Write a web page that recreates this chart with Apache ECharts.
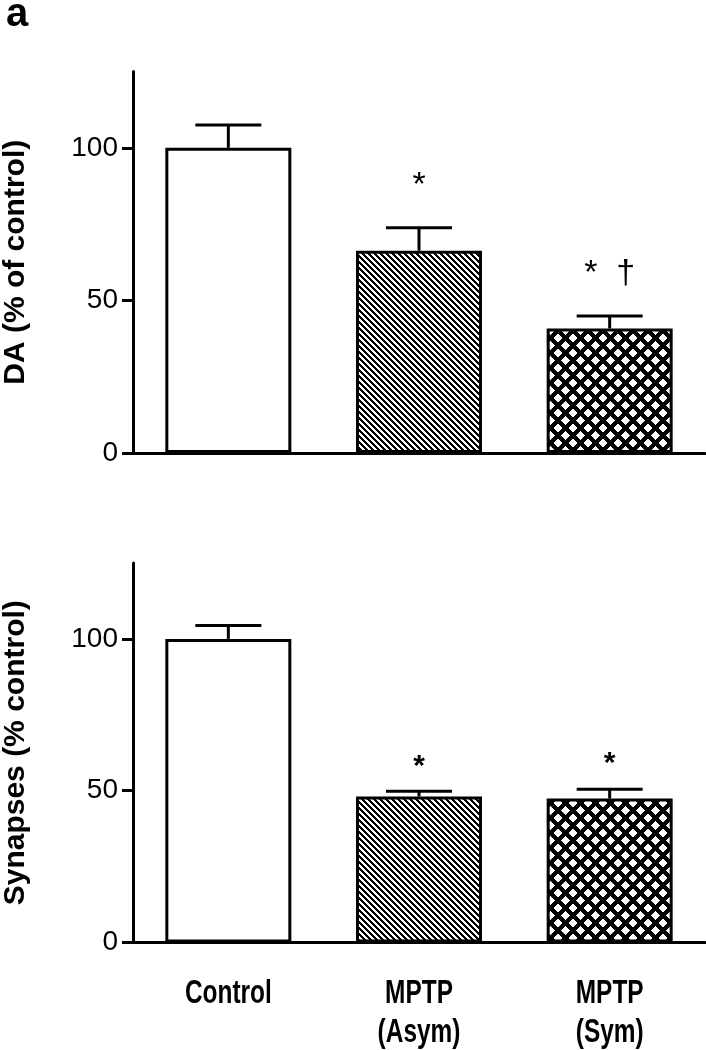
<!DOCTYPE html>
<html>
<head>
<meta charset="utf-8">
<script src="https://cdn.jsdelivr.net/npm/echarts@6/dist/echarts.min.js"></script>
<style>
  html, body { margin: 0; padding: 0; background: #fff; }
  #chart { width: 706px; height: 1050px; }
</style>
</head>
<body>
<div id="chart"></div>
<script>
  // values
  const groups = ['Control', 'MPTP\n(Asym)', 'MPTP\n(Sym)'];
  const daMean = [100, 66.3, 40.8];
  const daErr = [7.5, 7.5, 4.1];
  const daMarks = ['', '*', '*  †'];
  const synMean = [100, 48.1, 47.4];
  const synErr = [4.4, 1.7, 3.1];
  const synMarks = ['', '*', '*'];
  const yTicks = [0, 50, 100];

  const sans = '"Liberation Sans", Arial, sans-serif';

  // little canvas tiles for the hatched bars
  function tile(size, isInk) {
    let c = document.createElement('canvas');
    c.width = size;
    c.height = size;
    let ctx = c.getContext('2d');
    ctx.fillStyle = '#fff';
    ctx.fillRect(0, 0, size, size);
    ctx.fillStyle = '#000';
    for (let y = 0; y < size; y++) {
      for (let x = 0; x < size; x++) {
        if (isInk(x, y)) ctx.fillRect(x, y, 1, 1);
      }
    }
    return c;
  }
  const stripes = tile(6, (x, y) => ((x - y) % 6 + 6) % 6 < 3);
  const crossed = tile(15, (x, y) => (x + y) % 15 < 6 || ((x - y) % 15 + 15) % 15 < 6);
  const fills = ['#fff', {image: stripes, repeat: 'repeat'}, {image: crossed, repeat: 'repeat'}];

  function barSeries(idx, means) {
    return {
      type: 'bar',
      xAxisIndex: idx,
      yAxisIndex: idx,
      barWidth: 126,
      data: means.map((v, i) => ({value: v, itemStyle: {color: fills[i]}})),
      itemStyle: {borderColor: '#000', borderWidth: 3},
      emphasis: {disabled: true}
    };
  }

  function errSeries(idx, means, errs, marks, markFont, lift) {
    return {
      type: 'custom',
      xAxisIndex: idx,
      yAxisIndex: idx,
      z: 5,
      clip: false,
      data: means.map((m, i) => [i, m, m + errs[i]]),
      renderItem: (params, api) => {
        let base = api.coord([api.value(0), api.value(1)]);
        let top = api.coord([api.value(0), api.value(2)]);
        let kids = [
          {type: 'line', shape: {x1: top[0], y1: base[1], x2: top[0], y2: top[1]}, style: {stroke: '#000', lineWidth: 3}},
          {type: 'line', shape: {x1: top[0] - 33, y1: top[1], x2: top[0] + 33, y2: top[1]}, style: {stroke: '#000', lineWidth: 3}}
        ];
        let mark = marks[params.dataIndex];
        if (mark) {
          kids.push({
            type: 'text', x: top[0], y: top[1] - lift,
            style: {text: mark, fill: '#000', font: markFont, align: 'center', verticalAlign: 'middle'}
          });
        }
        return {type: 'group', children: kids};
      }
    };
  }

  // the group names are set in a condensed bold face, so squeeze them
  function groupLabels(idx) {
    return {
      type: 'custom',
      xAxisIndex: idx,
      yAxisIndex: idx,
      clip: false,
      silent: true,
      data: groups.map((g, i) => [i, 0]),
      renderItem: (params, api) => {
        let p = api.coord([api.value(0), api.value(1)]);
        return {
          type: 'text',
          x: p[0],
          y: p[1] + 32,
          scaleX: 0.74,
          style: {
            text: groups[params.dataIndex],
            fill: '#000',
            font: 'bold 33px ' + sans,
            lineHeight: 39,
            align: 'center',
            verticalAlign: 'top'
          }
        };
      }
    };
  }

  function yAxis(idx, name) {
    return {
      gridIndex: idx,
      type: 'value',
      min: 0,
      max: 125,
      interval: 50,
      name: name,
      nameLocation: 'middle',
      nameGap: 102,
      nameTextStyle: {fontFamily: sans, fontWeight: 'bold', fontSize: 30, color: '#000'},
      axisLine: {show: true, lineStyle: {color: '#000', width: 3}},
      axisTick: {show: true, length: 11, lineStyle: {color: '#000', width: 3}, customValues: yTicks},
      axisLabel: {customValues: yTicks, fontFamily: sans, fontSize: 28, color: '#000', margin: 15},
      splitLine: {show: false}
    };
  }

  function xAxis(idx) {
    return {
      gridIndex: idx,
      type: 'category',
      data: groups,
      axisLine: {lineStyle: {color: '#000', width: 3}},
      axisTick: {alignWithLabel: true, length: 11, lineStyle: {color: '#000', width: 3}},
      axisLabel: {show: false}
    };
  }

  let chart = echarts.init(document.getElementById('chart'));
  chart.setOption({
    animation: false,
    backgroundColor: '#fff',
    grid: [
      {left: 133, top: 71.5, width: 572, height: 381.5, outerBoundsMode: 'none', containLabel: false},
      {left: 133, top: 563, width: 572, height: 379.5, outerBoundsMode: 'none', containLabel: false}
    ],
    xAxis: [xAxis(0), xAxis(1)],
    yAxis: [yAxis(0, 'DA (% of control)'), yAxis(1, 'Synapses (% control)')],
    graphic: [
      {type: 'text', left: 6, top: -5, style: {text: 'a', font: 'bold 40px ' + sans, fill: '#000'}}
    ],
    series: [
      barSeries(0, daMean),
      errSeries(0, daMean, daErr, daMarks, '34px ' + sans, 42),
      barSeries(1, synMean),
      errSeries(1, synMean, synErr, synMarks, 'bold 30px ' + sans, 25),
      groupLabels(1)
    ]
  });
</script>
</body>
</html>
